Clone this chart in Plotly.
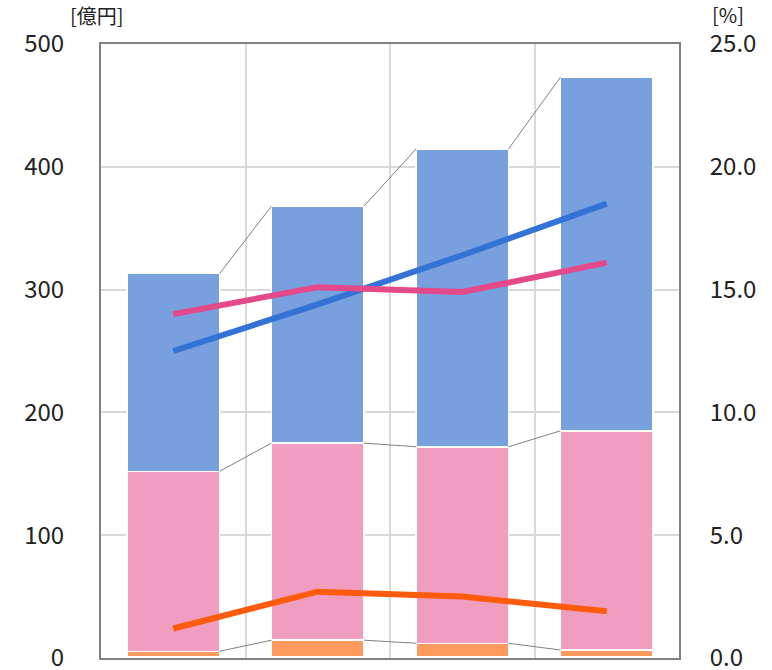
import plotly.graph_objects as go

# Data
x_pos = [0, 1, 2, 3]
base_seg = [1.0, 1.0, 1.0, 1.0]          # thin cream bottom segment
orange_seg = [4.5, 13.5, 11.0, 5.5]
pink_seg = [146.5, 160.5, 160.0, 178.5]
blue_seg = [161.0, 193.0, 242.5, 288.0]

blue_pct = [12.5, 14.4, 16.4, 18.5]
pink_pct = [14.0, 15.1, 14.9, 16.1]
orange_pct = [1.2, 2.7, 2.5, 1.9]

left_ticks = [0, 100, 200, 300, 400, 500]
right_ticks = [0, 5, 10, 15, 20, 25]

BAR_W = 0.64

fig = go.Figure()

segments = [
    (base_seg, "#F7EFD6"),
    (orange_seg, "#FF9A5E"),
    (pink_seg, "#F09DBF"),
    (blue_seg, "#789FDE"),
]
for vals, col in segments:
    fig.add_trace(go.Bar(
        x=x_pos, y=vals, width=BAR_W, marker=dict(color=col, line=dict(color="white", width=1.5)),
        showlegend=False, hoverinfo="skip"))

# connector lines between stacked segment tops
cum = [0.0] * 4
for i, (vals, col) in enumerate(segments):
    cum = [c + v for c, v in zip(cum, vals)]
    if i == 0:
        continue
    for k in range(3):
        fig.add_trace(go.Scatter(
            x=[x_pos[k] + BAR_W / 2, x_pos[k + 1] - BAR_W / 2],
            y=[cum[k], cum[k + 1]], mode="lines",
            line=dict(color="#808080", width=1), showlegend=False, hoverinfo="skip"))

for vals, col in [(blue_pct, "#3373D6"), (pink_pct, "#E4498A"), (orange_pct, "#FF5B0C")]:
    fig.add_trace(go.Scatter(
        x=x_pos, y=vals, yaxis="y2", mode="lines",
        line=dict(color=col, width=6), showlegend=False, hoverinfo="skip"))

font = dict(family="Noto Sans CJK JP", size=24, color="#222222")
title_font = dict(family="Noto Sans CJK JP", size=20, color="#222222")

ML, MR, MT, MB = 101, 93, 44, 12
W, H = 772, 670
pw = W - ML - MR
ph = H - MT - MB


def px_to_paper(px, py):
    return (px - ML) / pw, (H - MB - py) / ph


ax1, ay1 = px_to_paper(97, 16)
ax2, ay2 = px_to_paper(728, 15)

fig.update_layout(
    width=W, height=H,
    margin=dict(l=ML, r=MR, t=MT, b=MB, autoexpand=False),
    paper_bgcolor="white", plot_bgcolor="white",
    barmode="stack", bargap=0.36,
    font=font,
    xaxis=dict(range=[-0.5, 3.5], tickvals=[0.5, 1.5, 2.5], showticklabels=False,
               showgrid=True, gridcolor="#D9D9D9", gridwidth=1.5, zeroline=False,
               showline=True, linecolor="#808080", linewidth=2, mirror=True, ticks="",
               automargin=False),
    yaxis=dict(range=[0, 500], tickvals=left_ticks, ticktext=[str(v) for v in left_ticks],
               showgrid=True, gridcolor="#D9D9D9", gridwidth=1.5, zeroline=False,
               showline=True, linecolor="#808080", linewidth=2, ticks="",
               ticklabelstandoff=30, tickfont=font, ticklabeloverflow="allow",
               automargin=False),
    yaxis2=dict(range=[0, 25], tickvals=right_ticks, ticktext=[f"{v:.1f}" for v in right_ticks],
                overlaying="y", side="right", showgrid=False, zeroline=False,
                showline=True, linecolor="#808080", linewidth=2, ticks="",
                ticklabelstandoff=24, tickfont=font, ticklabeloverflow="allow",
                automargin=False),
    annotations=[
        dict(text="[億円]", x=ax1, y=ay1, xref="paper", yref="paper", showarrow=False,
             xanchor="center", yanchor="middle", font=title_font),
        dict(text="[%]", x=ax2, y=ay2, xref="paper", yref="paper", showarrow=False,
             xanchor="center", yanchor="middle", font=title_font),
    ],
)

fig.write_html("out.html")
